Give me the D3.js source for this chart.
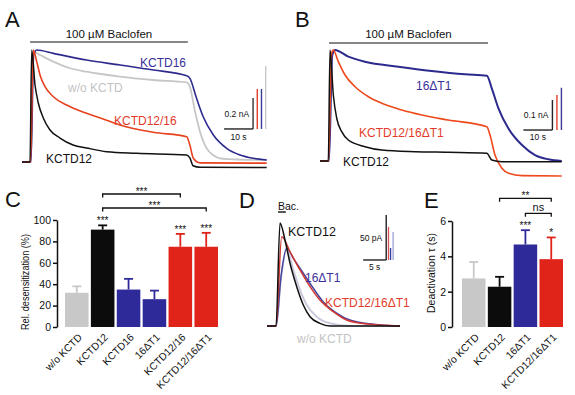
<!DOCTYPE html>
<html><head><meta charset="utf-8">
<script src="https://cdn.jsdelivr.net/npm/d3@7"></script>
<style>
body{margin:0;background:#fff}
svg{display:block}
text{font-family:"Liberation Sans",Arial,Helvetica,sans-serif}
</style>
</head><body>
<svg id="fig" width="575" height="395"></svg>
<script>
// ---------------- DATA ----------------
// Panel C: relative desensitization (%)
const catsC = ["w/o KCTD","KCTD12","KCTD16","16ΔT1","KCTD12/16","KCTD12/16ΔT1"];
const valsC = [32, 91, 35, 26, 75, 75];
const errsC = [6, 4, 10, 8, 12, 13];
const starsC = ["", "***", "", "", "***", "***"];
const ticksC = [0, 20, 40, 60, 80, 100];
// Panel E: deactivation tau (s)
const catsE = ["w/o KCTD","KCTD12","16ΔT1","KCTD12/16ΔT1"];
const valsE = [2.75, 2.28, 4.67, 3.84];
const errsE = [0.93, 0.56, 0.81, 1.23];
const starsE = ["", "", "***", "*"];
const ticksE = [0, 2, 4, 6];

// Panel A traces: [time (s), normalized current]
const traceA_wo = [[0,0],[3.1,0],[3.8,0.985],[6.2,0.955],[10.8,0.896],[16.6,0.837],[22.3,0.806],[33.8,0.762],[45.3,0.732],[56.8,0.711],[57.9,0.672],[59.7,0.449],[61.4,0.271],[63.7,0.122],[66,0.06],[68.3,0.033],[75,0.022],[84.4,0.018]];
const traceA_16 = [[0,0],[3.1,0],[4.0,0.95],[5.07,1.0],[10.8,0.97],[22.3,0.91],[33.8,0.866],[45.3,0.821],[56.8,0.77],[57.9,0.747],[60.2,0.569],[62.5,0.404],[66.0,0.241],[70.6,0.122],[75.2,0.0625],[79.8,0.033],[84.4,0.018]];
const traceA_1216 = [[0,0],[2.93,0],[3.9,1.0],[5.07,0.896],[6.21,0.777],[7.93,0.672],[10.8,0.583],[15.4,0.509],[22.3,0.435],[28.0,0.384],[33.8,0.33],[45.3,0.265],[56.8,0.226],[57.9,0.152],[59.1,0.033],[61.4,-0.008],[84.4,-0.01]];
const traceA_12 = [[0,0],[2.76,0],[3.34,1.0],[4.48,0.69],[5.62,0.527],[7.34,0.393],[9.66,0.286],[13.1,0.214],[17.6,0.152],[22.3,0.125],[29.2,0.092],[39.6,0.078],[56.8,0.0625],[57.9,0.036],[59.0,-0.033],[61.4,-0.047],[84.4,-0.049]];
// Panel B traces
const traceB_16dT1 = [[0,0],[3.1,0],[4.2,0.95],[5.17,1.0],[9.76,0.94],[15.5,0.895],[27.0,0.85],[38.5,0.811],[50,0.781],[57.5,0.768],[59.2,0.655],[61.5,0.475],[64.9,0.295],[69.6,0.144],[74.1,0.054],[78.7,0.015],[83.3,0.0]];
const traceB_1216dT1 = [[0,0],[2.93,0],[4.0,0.97],[4.59,1.0],[6.31,0.895],[8.62,0.775],[12.1,0.669],[16.7,0.579],[21.3,0.52],[28.2,0.459],[35.1,0.414],[44.2,0.369],[57.5,0.309],[58.6,0.234],[60.3,0.054],[62.7,-0.066],[65.0,-0.111],[69.6,-0.132],[83.3,-0.135]];
const traceB_12 = [[0,0],[2.86,0],[3.45,1.0],[4.59,0.595],[5.76,0.385],[7.48,0.264],[9.76,0.189],[15.5,0.129],[21.3,0.099],[32.8,0.084],[44.2,0.078],[57.5,0.069],[59.2,0.009],[62.7,-0.006],[83.3,-0.006]];
// Panel D traces
const traceD_wo = [[0,0],[1.96,0],[3.04,0.46],[4.28,0.738],[5.72,0.544],[7.17,0.35],[8.63,0.204],[10.8,0.09],[13.7,0.026],[18,0],[28.9,0]];
const traceD_16dT1 = [[0,0],[1.96,0],[3.04,0.48],[4.28,0.754],[5.72,0.657],[7.89,0.512],[10.07,0.366],[12.2,0.236],[15.2,0.123],[18.0,0.058],[23.1,0.017],[28.9,0]];
const traceD_1216dT1 = [[0,0],[1.96,0],[3.2,0.867],[5.0,0.721],[7.17,0.544],[9.35,0.382],[11.5,0.252],[14.4,0.139],[17.3,0.058],[21.7,0.019],[28.9,0]];
const traceD_12 = [[0,0],[1.96,0],[2.83,1.0],[3.91,0.835],[5.0,0.609],[6.46,0.382],[7.89,0.204],[9.35,0.09],[11.5,0.026],[13.7,0],[28.9,0]];

// Scale-bar amplitudes (normalized units)
const scaleAmpsA = [0.277, 0.357, 0.357, 0.5625];
const scaleAmpsB = [0.27, 0.315, 0.381];
const scaleAmpsD = [0.437, 0.32, 0.117, 0.272];

// ---------------- STYLE ----------------
const COL = {
  black:"#111111", gray:"#c6c6c6", blue:"#2d2a8e", red:"#e8411e",
  barGray:"#c8c8c8", barBlack:"#0c0c0c", barBlue:"#2f2a9a", barRed:"#e0241a",
  txtBlue:"#3a309c", txtRed:"#e23b2b", txtGray:"#c3c3c3"
};
const svg = d3.select("#fig");

function txt(g, x, y, s, o = {}) {
  const t = g.append("text").attr("x", x).attr("y", y).text(s)
    .attr("font-size", o.size || 11).attr("fill", o.fill || "#111")
    .attr("text-anchor", o.anchor || "start");
  if (o.transform) t.attr("transform", o.transform);
  if (o.weight) t.attr("font-weight", o.weight);
  return t;
}
function hline(g, x1, x2, y, c = "#111", w = 1.3) {
  g.append("line").attr("x1", x1).attr("x2", x2).attr("y1", y).attr("y2", y).attr("stroke", c).attr("stroke-width", w);
}
function vline(g, x, y1, y2, c = "#111", w = 1.3) {
  g.append("line").attr("x1", x).attr("x2", x).attr("y1", y1).attr("y2", y2).attr("stroke", c).attr("stroke-width", w);
}
function drawTrace(g, xs, ys, data, color, w) {
  const line = d3.line().x(d => xs(d[0])).y(d => ys(d[1])).curve(d3.curveMonotoneX);
  g.append("path").datum(data).attr("d", line).attr("fill", "none")
    .attr("stroke", color).attr("stroke-width", w).attr("stroke-linejoin", "round");
}

// ---------------- PANEL LETTERS ----------------
[["A",5,27],["B",295,27],["C",5,207],["D",239,208],["E",424,208]].forEach(([s,x,y]) =>
  txt(svg, x, y, s, {size:22}));

// ---------------- PANEL A ----------------
{
  const g = svg.append("g");
  const x = d3.scaleLinear().domain([0, 84.4]).range([22, 266.7]);
  const y = d3.scaleLinear().domain([0, 1]).range([162, 50]);
  hline(g, x(2.8), x(57.2), 42, "#111", 1.2);
  txt(g, (x(2.8) + x(57.2)) / 2, 38, "100 µM Baclofen", {size:11.5, anchor:"middle"});
  drawTrace(g, x, y, traceA_wo, COL.gray, 1.8);
  drawTrace(g, x, y, traceA_16, COL.blue, 1.6);
  drawTrace(g, x, y, traceA_1216, COL.red, 1.6);
  drawTrace(g, x, y, traceA_12, COL.black, 1.5);
  txt(g, 140, 67, "KCTD16", {size:12, fill:COL.txtBlue});
  txt(g, 68, 92, "w/o KCTD", {size:12, fill:COL.txtGray});
  txt(g, 114, 125, "KCTD12/16", {size:12, fill:COL.txtRed});
  txt(g, 46, 163, "KCTD12", {size:12, fill:COL.black});
  // scale bars
  const base = 0.295, t0 = 69.7;
  hline(g, x(t0), x(t0 + 10), y(base), "#111", 1.3);
  const cols = ["#333", "#e0402a", "#3a3a9a", "#c8c8c8"];
  scaleAmpsA.forEach((a, i) => vline(g, x(t0 + 10 + i * 1.45), y(base), y(base + a), cols[i], 1.4));
  txt(g, x(t0) + 25, 116.5, "0.2 nA", {size:8.5, anchor:"end"});
  txt(g, (x(t0) + x(t0 + 10)) / 2, 140, "10 s", {size:8.5, anchor:"middle"});
}

// ---------------- PANEL B ----------------
{
  const g = svg.append("g");
  const x = d3.scaleLinear().domain([0, 83.3]).range([320, 561.7]);
  const y = d3.scaleLinear().domain([0, 1]).range([161, 50]);
  hline(g, x(3.1), x(57.9), 43, "#111", 1.2);
  txt(g, (x(3.1) + x(57.9)) / 2, 38, "100 µM Baclofen", {size:11.5, anchor:"middle"});
  drawTrace(g, x, y, traceB_16dT1, COL.blue, 2.0);
  drawTrace(g, x, y, traceB_1216dT1, "#ee4a1d", 1.6);
  drawTrace(g, x, y, traceB_12, COL.black, 1.5);
  txt(g, 416, 90, "16ΔT1", {size:12, fill:COL.txtBlue});
  txt(g, 359, 136.5, "KCTD12/16ΔT1", {size:12, fill:COL.txtRed});
  txt(g, 343, 165.5, "KCTD12", {size:12, fill:COL.black});
  const base = 0.279, t0 = 70.1;
  hline(g, x(t0), x(t0 + 10), y(base), "#111", 1.3);
  const cols = ["#222", "#e0402a", "#3a3a9a"];
  scaleAmpsB.forEach((a, i) => vline(g, x(t0 + 10 + i * 1.55), y(base), y(base + a), cols[i], 1.4));
  txt(g, x(t0) + 25, 118, "0.1 nA", {size:8.5, anchor:"end"});
  txt(g, (x(t0) + x(t0 + 10)) / 2, 140, "10 s", {size:8.5, anchor:"middle"});
}

// ---------------- PANEL D ----------------
{
  const g = svg.append("g");
  const x = d3.scaleLinear().domain([0, 28.9]).range([267, 400]);
  const y = d3.scaleLinear().domain([0, 1]).range([326, 223]);
  hline(g, x(2.4), x(4.1), 212, "#111", 1.4);
  txt(g, x(2.4), 209.5, "Bac.", {size:10.5});
  drawTrace(g, x, y, traceD_wo, "#c9cbdc", 2.0);
  drawTrace(g, x, y, traceD_16dT1, "#44449e", 1.5);
  drawTrace(g, x, y, traceD_1216dT1, "#d03830", 1.5);
  drawTrace(g, x, y, traceD_12, COL.black, 1.5);
  txt(g, 288, 236, "KCTD12", {size:12.5, fill:COL.black});
  txt(g, 305, 282, "16ΔT1", {size:12, fill:COL.txtBlue});
  txt(g, 325, 307, "KCTD12/16ΔT1", {size:12, fill:COL.txtRed});
  txt(g, 297, 343, "w/o KCTD", {size:12, fill:COL.txtGray});
  const base = 0.641, t0 = 20.9;
  hline(g, x(t0), x(t0 + 5), y(base), "#111", 1.3);
  const cols = ["#111", "#d85050", "#3a3a9a", "#9aa0d8"];
  const offs = [0, 0.5, 0.95, 1.5];
  scaleAmpsD.forEach((a, i) => vline(g, x(t0 + 5 + offs[i]), y(base), y(base + a), cols[i], 1.3));
  txt(g, x(t0 + 5) - 4, 241, "50 pA", {size:8.5, anchor:"end"});
  txt(g, (x(t0) + x(t0 + 5)) / 2, 269.5, "5 s", {size:8.5, anchor:"middle"});
}

// ---------------- BAR CHARTS ----------------
function barChart(cfg) {
  const g = svg.append("g");
  const xb = d3.scaleBand().domain(cfg.cats).range(cfg.xRange).paddingInner(0.09).paddingOuter(0);
  const y = d3.scaleLinear().domain([0, cfg.max]).range([327, cfg.top]);
  const cx = c => xb(c) + xb.bandwidth() / 2;
  cfg.cats.forEach((c, i) => {
    const v = cfg.vals[i], e = cfg.errs[i], col = cfg.colors[i];
    g.append("rect").attr("x", xb(c)).attr("y", y(v)).attr("width", xb.bandwidth())
      .attr("height", y(0) - y(v)).attr("fill", col);
    vline(g, cx(c), y(v), y(v + e), col, 1.8);
    hline(g, cx(c) - 4.5, cx(c) + 4.5, y(v + e), col, 1.8);
    if (cfg.stars[i]) txt(g, cx(c), y(v + e) - 1, cfg.stars[i], {size:10, anchor:"middle"});
    txt(g, 0, 0, c, {size:10.3, anchor:"end", transform:`translate(${cx(c) + 6},338) rotate(-45)`});
  });
  const ax = g.append("g").attr("transform", `translate(${cfg.axisX},0)`)
    .call(d3.axisLeft(y).tickValues(cfg.ticks).tickFormat(d3.format("d"))
      .tickSize(4).tickSizeOuter(0).tickPadding(2));
  ax.select(".domain").attr("stroke", "#111").attr("stroke-width", 1.5);
  ax.selectAll(".tick line").attr("stroke", "#111").attr("stroke-width", 1.5);
  ax.selectAll(".tick text").attr("font-size", 10.5).attr("fill", "#111")
    .attr("font-family", '"Liberation Sans",Arial,sans-serif');
  const yl = txt(g, 0, 0, cfg.yLabel, {size:10.5, anchor:"middle",
    transform:`translate(${cfg.yLabelPos[0]},${cfg.yLabelPos[1]}) rotate(-90)`});
  if (cfg.yLabelLen) yl.attr("textLength", cfg.yLabelLen).attr("lengthAdjust", "spacingAndGlyphs");
  (cfg.brackets || []).forEach(b => {
    const x1 = cx(b.from), x2 = cx(b.to);
    g.append("path").attr("d", `M${x1},${b.y + 3.5}V${b.y}H${x2}V${b.y + 3.5}`)
      .attr("fill", "none").attr("stroke", "#111").attr("stroke-width", 1.3);
    txt(g, (x1 + x2) / 2, b.ty, b.label, {size:b.size || 10, anchor:"middle"});
  });
  return {xb, y};
}

barChart({
  cats: catsC, vals: valsC, errs: errsC, stars: starsC, ticks: ticksC, max: 100, top: 220,
  xRange: [65, 218], axisX: 57,
  colors: [COL.barGray, COL.barBlack, COL.barBlue, COL.barBlue, COL.barRed, COL.barRed],
  yLabel: "Rel. desensitization (%)", yLabelPos: [29, 282], yLabelLen: 96,
  brackets: [
    {from:"KCTD12", to:"KCTD12/16", y:194, ty:194.5, label:"***"},
    {from:"KCTD12", to:"KCTD12/16ΔT1", y:208, ty:208.5, label:"***"}
  ]
});

barChart({
  cats: catsE, vals: valsE, errs: errsE, stars: starsE, ticks: ticksE, max: 6, top: 221,
  xRange: [462, 563], axisX: 452,
  colors: [COL.barGray, COL.barBlack, COL.barBlue, COL.barRed],
  yLabel: "Deactivation τ (s)", yLabelPos: [435, 273],
  brackets: [
    {from:"KCTD12", to:"KCTD12/16ΔT1", y:198.3, ty:199, label:"**"},
    {from:"16ΔT1", to:"KCTD12/16ΔT1", y:213.3, ty:211.3, label:"ns", size:11}
  ]
});
</script>
</body></html>
